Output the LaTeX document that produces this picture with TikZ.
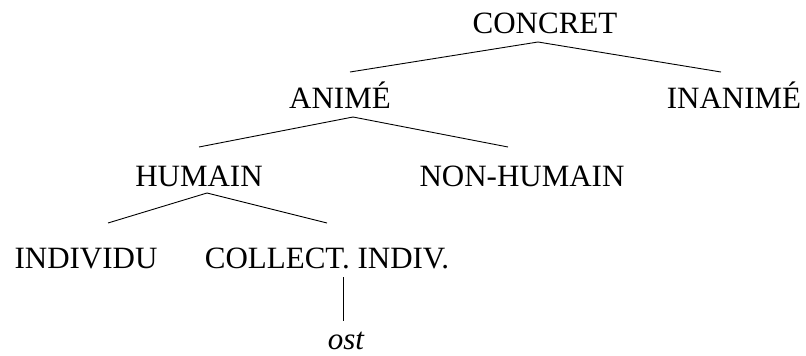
\documentclass[tikz,border=0pt]{standalone}
\usepackage{fontspec}
\setmainfont{LiberationSerif}[Extension=.ttf,UprightFont=*-Regular,ItalicFont=*-Italic,BoldFont=*-Bold,BoldItalicFont=*-BoldItalic]
\usepackage{tikz}

\begin{document}
\begin{tikzpicture}[x=1pt,y=-1pt,
  cat/.style={anchor=base,inner sep=0pt,font=\rmfamily\fontsize{31}{36}\selectfont},
  branch/.style={line width=0.9pt}]
\useasboundingbox (0,0) rectangle (806,356);
\node[cat] (concret) at (545,34) {CONCRET};
\node[cat] (anime) at (340,108) {ANIMÉ};
\node[cat] (inanime) at (734,108) {INANIMÉ};
\node[cat] (humain) at (199,186) {HUMAIN};
\node[cat] (nonhumain) at (522,186) {NON-HUMAIN};
\node[cat] (individu) at (86,268) {INDIVIDU};
\node[cat] (collect) at (327,268) {COLLECT. INDIV.};
\node[cat] (ost) at (346,349) {\itshape ost};
\coordinate (concret-b) at (538,42);
\coordinate (anime-t) at (350,72);
\coordinate (inanime-t) at (721,72);
\coordinate (anime-b) at (353,117);
\coordinate (humain-t) at (199,147);
\coordinate (nonhumain-t) at (508,147);
\coordinate (humain-b) at (207,193);
\coordinate (individu-t) at (108,223);
\coordinate (collect-t) at (327,223);
\coordinate (collect-b) at (343,277);
\coordinate (ost-t) at (343,321);
\path [branch] (concret-b) edge (anime-t);
\path [branch] (concret-b) edge (inanime-t);
\path [branch] (anime-b) edge (humain-t);
\path [branch] (anime-b) edge (nonhumain-t);
\path [branch] (humain-b) edge (individu-t);
\path [branch] (humain-b) edge (collect-t);
\path [branch] (collect-b) edge (ost-t);
\end{tikzpicture}
\end{document}
